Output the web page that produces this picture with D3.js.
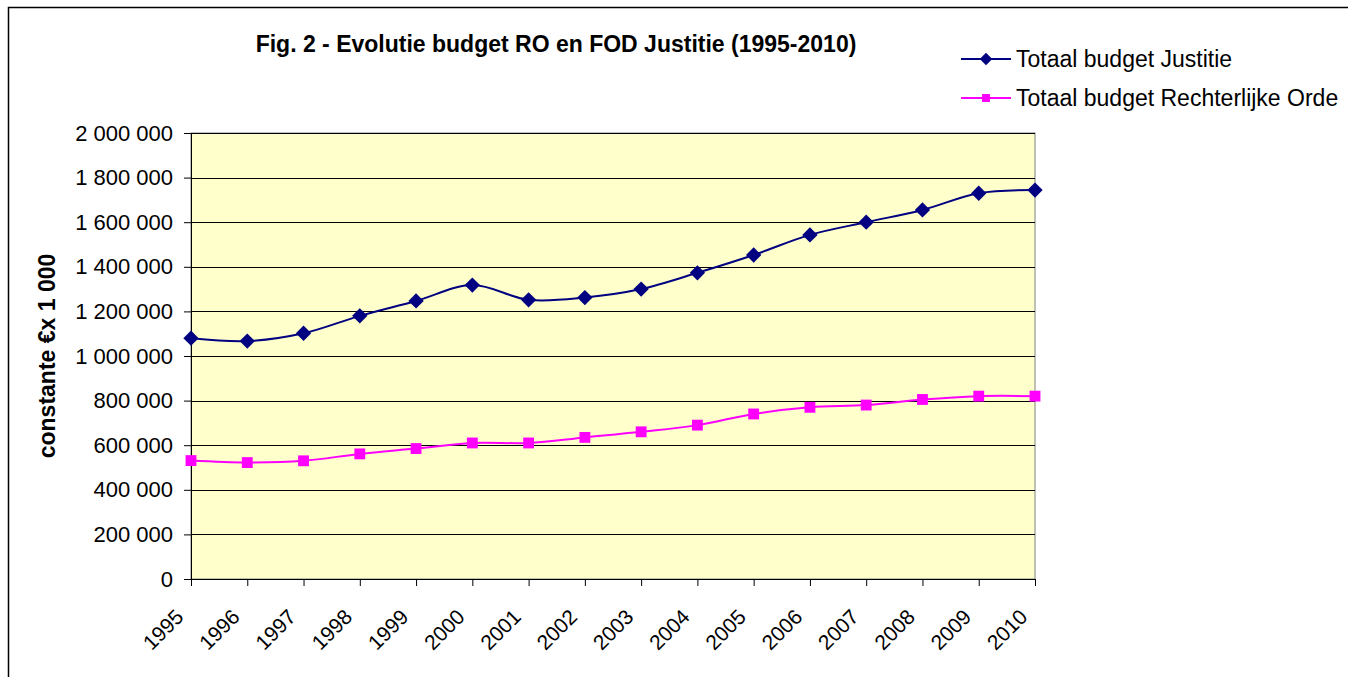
<!DOCTYPE html>
<html>
<head>
<meta charset="utf-8">
<script src="https://cdn.jsdelivr.net/npm/d3@7"></script>
<style>
  body { margin: 0; background: #fff; }
  text { font-family: "Liberation Sans", Arial, sans-serif; fill: #000; }
</style>
</head>
<body>
<div id="chart"></div>
<script>
// data
var years = ["1995","1996","1997","1998","1999","2000","2001","2002",
             "2003","2004","2005","2006","2007","2008","2009","2010"];
var justitie = [1080000, 1067000, 1102000, 1180000, 1247000, 1318000, 1252000, 1262000,
                1300000, 1373000, 1453000, 1543000, 1600000, 1655000, 1730000, 1744000];
var rechterlijkeOrde = [531000, 522000, 530000, 561000, 585000, 610000, 610000, 635000,
                        660000, 690000, 740000, 770000, 780000, 805000, 820000, 820000];
var yTicks = [0, 200000, 400000, 600000, 800000, 1000000, 1200000, 1400000, 1600000, 1800000, 2000000];

var W = 1348, H = 677;
var margin = {top: 133, right: 313, bottom: 98, left: 191};
var width = W - margin.left - margin.right,
    height = H - margin.top - margin.bottom;

var svg = d3.select("#chart").append("svg")
    .attr("width", W)
    .attr("height", H);

// outer chart frame (runs off the picture on the right and bottom)
svg.append("rect")
    .attr("x", 8.5).attr("y", 7.5)
    .attr("width", W + 20).attr("height", H + 20)
    .attr("fill", "none").attr("stroke", "#000").attr("stroke-width", 1.5);

var g = svg.append("g")
    .attr("transform", "translate(" + margin.left + "," + margin.top + ")");

var x = d3.scalePoint().domain(years).range([0, width]);
var y = d3.scaleLinear().domain([0, 2000000]).range([height, 0]);

// plot area
g.append("rect")
    .attr("width", width).attr("height", height)
    .attr("fill", "#FFFFCC").attr("stroke", "#808080");

// gridlines
g.append("g").selectAll("line")
    .data(yTicks.slice(1))
    .enter().append("line")
    .attr("x1", 0).attr("x2", width)
    .attr("y1", d => Math.round(y(d)) + 0.5).attr("y2", d => Math.round(y(d)) + 0.5)
    .attr("stroke", "#000").attr("stroke-width", 1);

var fmt = function(d) { return d3.format(",")(d).replace(/,/g, " "); };

// y axis
var yAxis = g.append("g")
    .call(d3.axisLeft(y).tickValues(yTicks).tickFormat(fmt).tickSize(7).tickPadding(11));
yAxis.select(".domain").attr("stroke", "#000");
yAxis.selectAll("text").style("font-size", "22px").attr("fill", "#000");

// x axis
var xAxis = g.append("g")
    .attr("transform", "translate(0," + height + ")")
    .call(d3.axisBottom(x).tickSize(7).tickSizeOuter(0));
xAxis.select(".domain").attr("stroke", "#000");
xAxis.selectAll("text")
    .style("font-size", "21px")
    .style("text-anchor", "end")
    .attr("x", 0).attr("y", 0)
    .attr("dx", 0)
    .attr("dy", "0.35em")
    .attr("transform", "translate(-12,34) rotate(-45)");

// y axis title
svg.append("text")
    .attr("transform", "translate(55," + (margin.top + height / 2) + ") rotate(-90)")
    .attr("text-anchor", "middle")
    .style("font-size", "23px")
    .style("font-weight", "bold")
    .text("constante €x 1 000");

// title
svg.append("text")
    .attr("x", 556).attr("y", 52)
    .attr("text-anchor", "middle")
    .style("font-size", "23px")
    .style("font-weight", "bold")
    .text("Fig. 2 - Evolutie budget RO en FOD Justitie (1995-2010)");

var line = d3.line()
    .x((d, i) => x(years[i]))
    .y(d => y(d))
    .curve(d3.curveCatmullRom.alpha(0.5));

var series = [
  {name: "Totaal budget Justitie", values: justitie, color: "#000080", marker: "diamond"},
  {name: "Totaal budget Rechterlijke Orde", values: rechterlijkeOrde, color: "#FF00FF", marker: "square"}
];

var diamond = d3.symbol().type(d3.symbolDiamond2).size(150);
var square = d3.symbol().type(d3.symbolSquare2).size(150);

series.forEach(function(s) {
  g.append("path")
      .datum(s.values)
      .attr("fill", "none")
      .attr("stroke", s.color)
      .attr("stroke-width", 2)
      .attr("d", line);

  g.append("g").selectAll("path")
      .data(s.values)
      .enter().append("path")
      .attr("transform", (d, i) => "translate(" + x(years[i]) + "," + y(d) + ")")
      .attr("d", s.marker === "diamond" ? diamond() : square())
      .attr("fill", s.color);
});

// legend
var legend = svg.append("g").attr("transform", "translate(961,59)");
series.forEach(function(s, i) {
  var row = legend.append("g").attr("transform", "translate(0," + (i * 39) + ")");
  row.append("line")
      .attr("x1", 0).attr("x2", 50)
      .attr("stroke", s.color).attr("stroke-width", 2);
  row.append("path")
      .attr("transform", "translate(25,0)")
      .attr("d", s.marker === "diamond" ? d3.symbol().type(d3.symbolDiamond2).size(100)()
                                        : d3.symbol().type(d3.symbolSquare2).size(80)())
      .attr("fill", s.color);
  row.append("text")
      .attr("x", 55).attr("y", 8)
      .style("font-size", "23px")
      .text(s.name);
});
</script>
</body>
</html>
